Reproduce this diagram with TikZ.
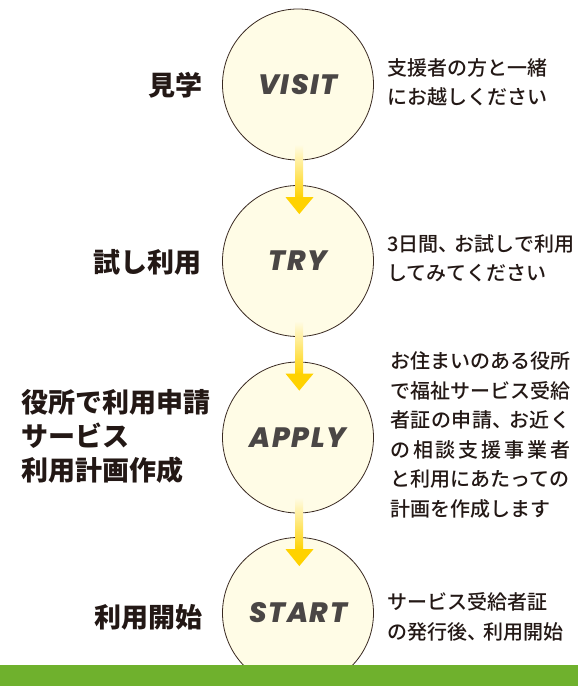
\documentclass[tikz,border=0pt]{standalone}
\usepackage{fontspec}
\newfontfamily\jp{Noto Sans CJK JP}
\newfontfamily\jpm{Noto Sans CJK JP Medium}
\newfontfamily\enf{Poppins}[LetterSpace=6, BoldItalicFont={Poppins ExtraBold Italic}]
\usetikzlibrary{calc}
\definecolor{cream}{HTML}{FFFCE6}
\definecolor{circbrd}{HTML}{3A2A22}
\definecolor{labgray}{HTML}{4A4645}
\definecolor{ink}{HTML}{231815}
\definecolor{arrowyellow}{HTML}{FFD200}
\definecolor{shafttop}{HTML}{FFFBE2}
\definecolor{band}{HTML}{6FB12D}
\newcommand{\hcm}{\makebox[0.8em][l]{、}}
\begin{document}
\begin{tikzpicture}[x=1pt,y=-1pt,
  stepcircle/.style={circle, draw=circbrd, line width=0.8pt, fill=cream,
    minimum size=151pt, inner sep=0pt,
    font=\enf\bfseries\itshape\fontsize{28}{28}\selectfont, text=labgray},
  leftlabel/.style={font=\jp\bfseries\fontsize{27}{34}\selectfont, text=ink, inner sep=0pt},
  desc/.style={font=\jpm\fontsize{20}{29.5}\selectfont, text=ink, align=left,
    inner sep=0pt, anchor=west},
  shaftbox/.style={top color=shafttop, bottom color=arrowyellow},
  headtri/.style={fill=arrowyellow}
]
\useasboundingbox (0,0) rectangle (578,686);
\fill[white] (0,0) rectangle (578,686);

% circles
\node[stepcircle] (v) at (298,84.5) {VISIT};
\node[stepcircle] (t) at (298,261) {TRY};
\node[stepcircle] (a) at (298,437.5) {APPLY};
\node[stepcircle] (s) at (298,613) {START};

% arrows between circles
\foreach \p/\q in {v/t, t/a, a/s}{
  \shade[shaftbox] ($(\p.south)+(-2.6,-15)$) rectangle ($(\q.north)+(5,13)$);
  \fill[headtri] ($(\q.north)+(-12.5,12)$) -- ($(\q.north)+(15.5,12)$)
     -- ($(\q.north)+(1.3,29)$) -- cycle;
}

% green band
\fill[band] (0,665) rectangle (578,686);

% left labels
\node[leftlabel, anchor=east] (lv) at (203,85) {見学};
\node[leftlabel, anchor=east] (lt) at (202,262) {試し利用};
\node[leftlabel, anchor=west, align=left] (la) at (21,436)
  {役所で利用申請\\サービス\\利用計画作成};
\node[leftlabel, anchor=east] (ls) at (203,617) {利用開始};

% descriptions
\node[desc] (dv) at (387,82.5) {支援者の方と一緒\\にお越しください};
\node[desc] (dt) at (387,258.5) {3日間\hcm お試しで利用\\してみてください};
\node[desc] (da) at (390,435)
  {お住まいのある役所\\
   で福祉サービス受給\\
   \makebox[9em][s]{者\hfil 証\hfil の\hfil 申\hfil 請\hfil \hcm\hfil お\hfil 近\hfil く}\\
   \makebox[9em][s]{の\hfil 相\hfil 談\hfil 支\hfil 援\hfil 事\hfil 業\hfil 者}\\
   と利用にあたっての\\
   計画を作成します};
\node[desc] (ds) at (387,617) {サービス受給者証\\の発行後\hcm 利用開始};
\end{tikzpicture}
\end{document}
